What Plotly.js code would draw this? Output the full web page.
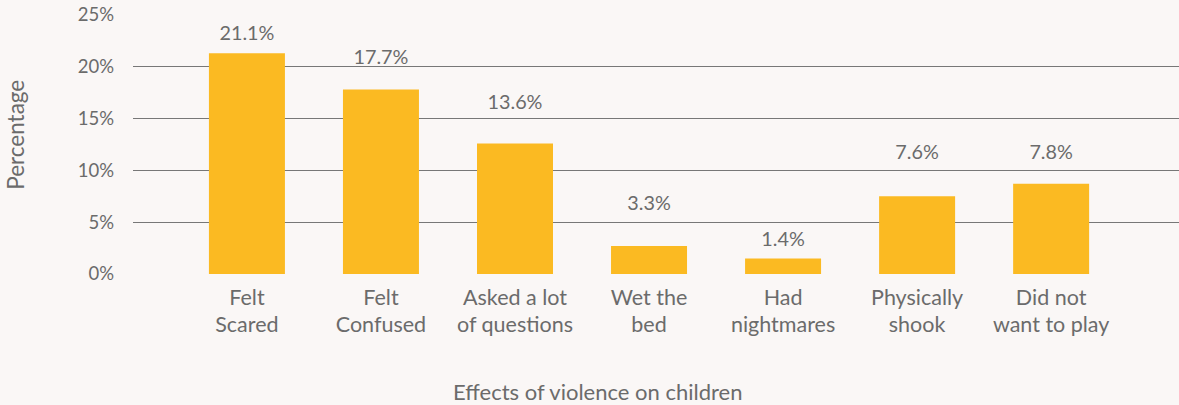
<!DOCTYPE html>
<html>
<head>
<meta charset="utf-8">
<script src="https://cdn.plot.ly/plotly-3.0.1.min.js"></script>
<style>
  html, body { margin: 0; padding: 0; background: #faf7f6; }
  #chart { width: 1179px; height: 405px; }
</style>
</head>
<body>
<div id="chart"></div>
<script>
// Categories (x axis tick labels)
const categories = [
  "Felt<br>Scared",
  "Felt<br>Confused",
  "Asked a lot<br>of questions",
  "Wet the<br>bed",
  "Had<br>nightmares",
  "Physically<br>shook",
  "Did not<br>want to play"
];
// Bar heights as drawn in the reference (percent)
const barValues = [21.3, 17.8, 12.6, 2.7, 1.5, 7.5, 8.7];
// Data label texts as printed in the reference
const labelTexts = ["21.1%", "17.7%", "13.6%", "3.3%", "1.4%", "7.6%", "7.8%"];
// Heights (percent) at which the labels sit in the reference
const labelHeights = [23.1, 20.7, 16.4, 6.7, 3.2, 11.6, 11.6];
// Y tick values
const yTicks = [0, 5, 10, 15, 20, 25];
const yTickText = ["0%", "5%", "10%", "15%", "20%", "25%"];

const textColor = "#6b6b6b";
const font = "Lato, 'Open Sans', sans-serif";

const traces = [
  {
    type: "bar",
    x: categories,
    y: barValues,
    width: 0.567,
    marker: { color: "#fbba22", line: { width: 0 } },
    hoverinfo: "none"
  },
  {
    type: "scatter",
    mode: "text",
    x: categories,
    y: labelHeights,
    text: labelTexts,
    textposition: "middle center",
    textfont: { family: font, size: 19.8, color: textColor },
    cliponaxis: false,
    hoverinfo: "none"
  }
];

const layout = {
  width: 1179,
  height: 405,
  margin: { l: 133, r: 0, t: 15, b: 131, pad: 0 },
  paper_bgcolor: "#faf7f6",
  plot_bgcolor: "#faf7f6",
  showlegend: false,
  font: { family: font, size: 19, color: textColor },
  xaxis: {
    type: "category",
    range: [-0.85, 6.954],
    showgrid: false,
    zeroline: false,
    showline: false,
    ticks: "",
    ticklabelstandoff: 8,
    tickfont: { family: font, size: 21.5, color: textColor },
    fixedrange: true
  },
  yaxis: {
    range: [0, 25],
    tickvals: yTicks,
    ticktext: yTickText,
    showgrid: true,
    gridcolor: "#777777",
    gridwidth: 1.1,
    zeroline: false,
    showline: false,
    ticks: "",
    ticklabelstandoff: 18,
    tickfont: { family: font, size: 18.5, color: textColor },
    fixedrange: true
  },
  annotations: [
    {
      text: "Effects of violence on children",
      xref: "paper", yref: "paper",
      x: 0.4436, y: -0.454,
      xanchor: "center", yanchor: "middle",
      showarrow: false,
      font: { family: font, size: 22, color: textColor }
    },
    {
      text: "Percentage",
      xref: "paper", yref: "paper",
      x: -0.112, y: 0.537,
      xanchor: "center", yanchor: "middle",
      textangle: -90,
      showarrow: false,
      font: { family: font, size: 22.5, color: textColor }
    }
  ]
};

Plotly.newPlot("chart", traces, layout, { displayModeBar: false, staticPlot: true });
</script>
</body>
</html>
